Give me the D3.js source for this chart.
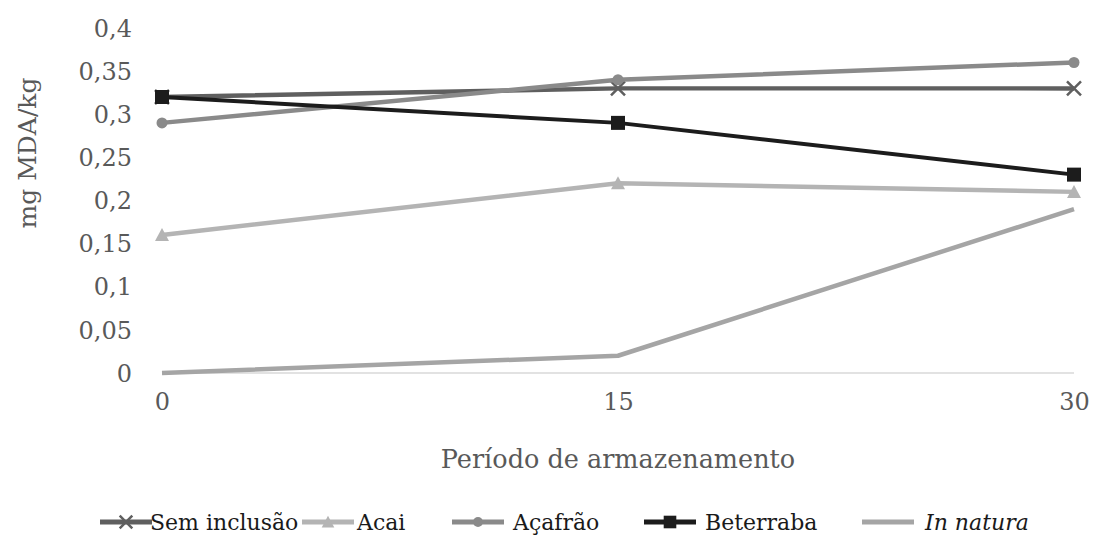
<!DOCTYPE html>
<html>
<head>
<meta charset="utf-8">
<script src="https://cdn.jsdelivr.net/npm/d3@7"></script>
<style>
  html, body { margin: 0; padding: 0; background: #fff; }
  svg text { font-family: "DejaVu Serif", "Liberation Serif", "Times New Roman", serif !important; }
</style>
</head>
<body>
<svg id="chart" width="1094" height="541"></svg>
<script>
// Storage period (days)
const periods = [0, 15, 30];
const periodLabels = ["0", "15", "30"];

// mg MDA/kg per treatment
const semInclusao = [0.32, 0.33, 0.33];
const acai = [0.16, 0.22, 0.21];
const acafrao = [0.29, 0.34, 0.36];
const beterraba = [0.32, 0.29, 0.23];
const inNatura = [0.00, 0.02, 0.19];

const yTicks = [0, 0.05, 0.1, 0.15, 0.2, 0.25, 0.3, 0.35, 0.4];
const yTickLabels = ["0", "0,05", "0,1", "0,15", "0,2", "0,25", "0,3", "0,35", "0,4"];

const seriesNames = ["Sem inclusão", "Acai", "Açafrão", "Beterraba", "In natura"];

const series = [
  { name: seriesNames[4], values: inNatura, color: "#a5a5a5", marker: "none" },
  { name: seriesNames[1], values: acai, color: "#b4b4b4", marker: "triangle" },
  { name: seriesNames[0], values: semInclusao, color: "#5f5f5f", marker: "cross" },
  { name: seriesNames[2], values: acafrao, color: "#8a8a8a", marker: "circle" },
  { name: seriesNames[3], values: beterraba, color: "#1c1c1c", marker: "square" }
];

const svg = d3.select("#chart");

const x = d3.scaleLinear().domain([0, 30]).range([162, 1074]);
const y = d3.scaleLinear().domain([0, 0.4]).range([373, 28]);

// Baseline
svg.append("line")
  .attr("x1", x(0)).attr("x2", x(30))
  .attr("y1", y(0)).attr("y2", y(0))
  .attr("stroke", "#d9d9d9").attr("stroke-width", 1.5);

// Y axis
const yAxis = d3.axisLeft(y)
  .tickValues(yTicks)
  .tickFormat((d, i) => yTickLabels[i])
  .tickSize(0)
  .tickPadding(0);
const gy = svg.append("g").attr("transform", "translate(132,0)").call(yAxis);
gy.attr("font-family", null);
gy.select(".domain").remove();
gy.selectAll("text")
  .attr("font-size", 24)
  .attr("fill", "#595959")
  .attr("dy", "0.34em");

// X axis
const xAxis = d3.axisBottom(x)
  .tickValues(periods)
  .tickFormat((d, i) => periodLabels[i])
  .tickSize(0)
  .tickPadding(0);
const gx = svg.append("g").attr("transform", "translate(0,393)").call(xAxis);
gx.attr("font-family", null);
gx.select(".domain").remove();
gx.selectAll("text")
  .attr("font-size", 24)
  .attr("fill", "#595959")
  .attr("dy", "0.71em");

// Axis titles
svg.append("text")
  .attr("x", 618).attr("y", 468)
  .attr("text-anchor", "middle")
  .attr("font-size", 25.5)
  .attr("fill", "#595959")
  .text("Período de armazenamento");

svg.append("text")
  .attr("transform", "translate(36,153) rotate(-90)")
  .attr("text-anchor", "middle")
  .attr("font-size", 25)
  .attr("fill", "#595959")
  .text("mg MDA/kg");

// Marker drawing
function drawMarker(g, type, cx, cy, color, scale) {
  const s = scale || 1;
  if (type === "square") {
    g.append("rect").attr("x", cx - 7 * s).attr("y", cy - 7 * s)
      .attr("width", 14 * s).attr("height", 14 * s).attr("fill", color);
  } else if (type === "circle") {
    g.append("circle").attr("cx", cx).attr("cy", cy).attr("r", 5.5 * s).attr("fill", color);
  } else if (type === "triangle") {
    g.append("path")
      .attr("d", `M${cx},${cy - 7 * s}L${cx + 7 * s},${cy + 6 * s}L${cx - 7 * s},${cy + 6 * s}Z`)
      .attr("fill", color);
  } else if (type === "cross") {
    g.append("path")
      .attr("d", `M${cx - 7 * s},${cy - 7 * s}L${cx + 7 * s},${cy + 7 * s}M${cx + 7 * s},${cy - 7 * s}L${cx - 7 * s},${cy + 7 * s}`)
      .attr("stroke", color).attr("stroke-width", 2.5).attr("fill", "none");
  }
}

const line = d3.line()
  .x((d, i) => x(periods[i]))
  .y(d => y(d));

const plot = svg.append("g");
series.forEach(s => {
  plot.append("path")
    .datum(s.values)
    .attr("d", line)
    .attr("fill", "none")
    .attr("stroke", s.color)
    .attr("stroke-width", s.marker === "square" ? 4 : 4.5)
    .attr("stroke-linejoin", "round");
  s.values.forEach((v, i) => drawMarker(plot, s.marker, x(periods[i]), y(v), s.color));
});

// Legend
const legendItems = [
  { name: seriesNames[0], color: "#5f5f5f", marker: "cross", lx: 100, tx: 150 },
  { name: seriesNames[1], color: "#b4b4b4", marker: "triangle", lx: 302, tx: 357 },
  { name: seriesNames[2], color: "#8a8a8a", marker: "circle", lx: 452, tx: 513 },
  { name: seriesNames[3], color: "#1c1c1c", marker: "square", lx: 644, tx: 705 },
  { name: seriesNames[4], color: "#a5a5a5", marker: "none", lx: 862, tx: 925, italic: true }
];
const legend = svg.append("g");
const ly = 522;
legendItems.forEach(it => {
  legend.append("line")
    .attr("x1", it.lx).attr("x2", it.lx + 52)
    .attr("y1", ly).attr("y2", ly)
    .attr("stroke", it.color).attr("stroke-width", 5);
  drawMarker(legend, it.marker, it.lx + 26, ly, it.color, 0.9);
  legend.append("text")
    .attr("x", it.tx).attr("y", ly + 8)
    .attr("font-size", 22)
    .attr("fill", "#1a1a1a")
    .attr("font-style", it.italic ? "italic" : "normal")
    .text(it.name);
});
</script>
</body>
</html>
